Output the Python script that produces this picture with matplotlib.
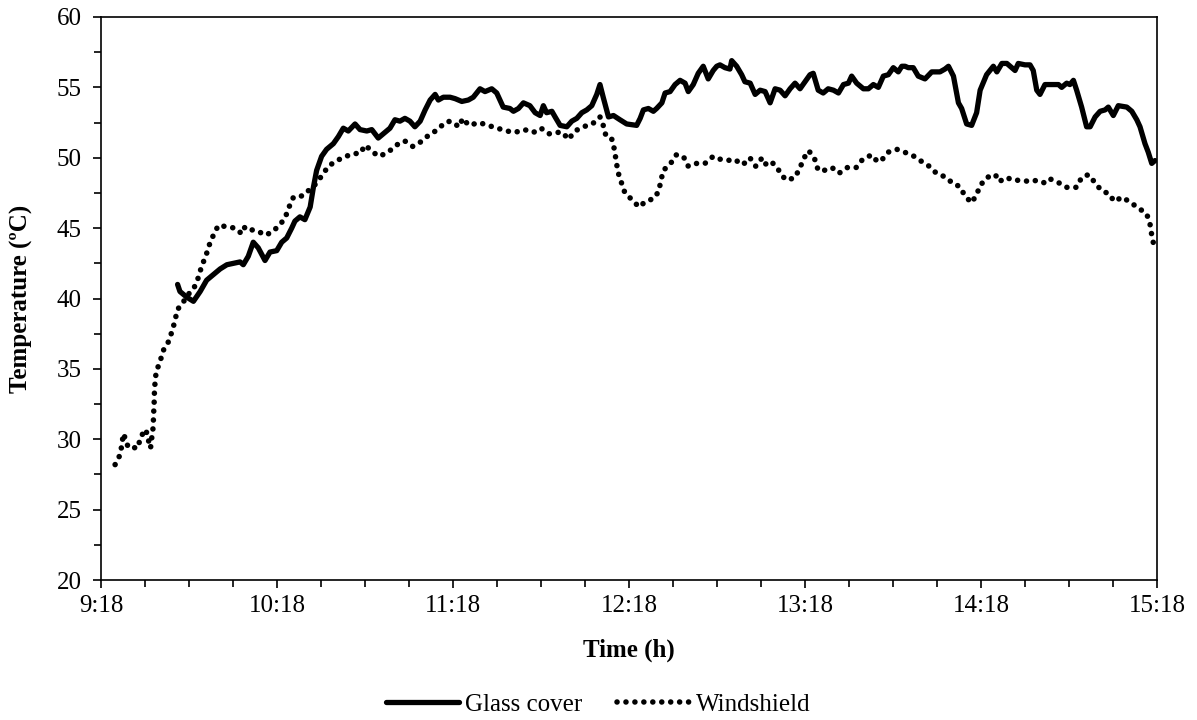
import matplotlib
matplotlib.use("Agg")
import matplotlib.pyplot as plt
from matplotlib.ticker import MultipleLocator

plt.rcParams['font.family'] = ['Liberation Serif', 'DejaVu Serif']

# time in minutes after 9:18, temperature in degC
glass_t = [26.1, 26.9, 29.2, 31.5, 33.8, 36.0, 38.3, 40.6, 42.9, 45.1, 47.4, 48.5, 50.2, 51.9,
           53.6, 55.9, 57.6, 59.9, 61.6, 63.3, 65.0, 66.1, 67.8, 69.5, 71.3, 72.4, 73.5, 75.2,
           76.9, 79.2, 80.9, 82.6, 84.3, 86.6, 88.3, 90.6, 92.3, 94.5, 96.2, 98.5, 100.2, 101.9,
           103.6, 105.3, 107.0, 108.8, 110.5, 112.2, 113.9, 115.0, 116.7, 119.0, 120.7, 123.0,
           125.2, 126.9, 129.2, 130.9, 133.2, 134.9, 137.1, 139.4, 140.6, 142.3, 144.0, 146.2,
           148.0, 149.7, 150.8, 151.9, 153.7, 154.8, 156.5, 158.8, 160.5, 162.2, 163.9, 165.6,
           167.3, 169.0, 170.1, 171.2, 173.0, 174.7, 176.9, 179.2, 182.6, 183.8, 184.9, 186.6,
           188.3, 189.4, 191.2, 192.3, 194.0, 195.7, 197.4, 199.1, 200.2, 201.9, 203.6, 205.3,
           207.0, 208.7, 209.9, 211.0, 212.7, 214.4, 215.0, 216.7, 218.4, 219.5, 221.3, 223.0,
           224.7, 226.4, 228.1, 229.8, 231.5, 233.2, 234.9, 236.6, 238.3, 240.0, 241.7, 242.8,
           244.5, 246.2, 247.9, 249.7, 251.4, 253.1, 254.8, 255.9, 257.6, 259.9, 261.6, 263.3,
           265.0, 266.7, 268.4, 270.1, 271.8, 273.0, 274.1, 275.2, 276.9, 278.6, 280.9, 283.2,
           286.0, 287.7, 288.9, 290.6, 292.3, 293.4, 295.1, 296.8, 298.5, 299.7, 301.9, 304.2,
           305.4, 307.1, 308.8, 310.5, 311.6, 312.7, 315.0, 316.7, 317.8, 319.0, 320.1, 321.8,
           324.1, 326.4, 327.5, 329.2, 330.3, 331.5, 332.6, 334.3, 336.0, 337.2, 338.9, 340.6,
           342.3, 343.4, 345.1, 346.8, 349.7, 351.4, 353.1, 354.2, 355.9, 357.0, 358.2, 359.3]
glass_temp = [41.0, 40.5, 40.1, 39.8, 40.5, 41.3, 41.7, 42.1, 42.4, 42.5, 42.6, 42.4, 43.0, 44.0,
              43.6, 42.7, 43.3, 43.4, 44.0, 44.3, 45.0, 45.5, 45.8, 45.6, 46.5, 47.9, 49.1, 50.1,
              50.6, 51.0, 51.5, 52.1, 51.9, 52.4, 52.0, 51.9, 52.0, 51.4, 51.7, 52.1, 52.7, 52.6,
              52.8, 52.6, 52.2, 52.6, 53.4, 54.1, 54.5, 54.1, 54.3, 54.3, 54.2, 54.0,
              54.1, 54.3, 54.9, 54.7, 54.9, 54.6, 53.6, 53.5, 53.3, 53.5, 53.9, 53.7,
              53.2, 53.0, 53.7, 53.2, 53.3, 52.9, 52.3, 52.2, 52.6, 52.8, 53.2, 53.4,
              53.7, 54.5, 55.2, 54.3, 52.9, 53.0, 52.7, 52.4, 52.3, 52.8, 53.4, 53.5,
              53.3, 53.5, 53.9, 54.6, 54.7, 55.2, 55.5, 55.3, 54.7, 55.2, 56.0, 56.5,
              55.6, 56.2, 56.5, 56.6, 56.4, 56.3, 56.9, 56.5, 55.9, 55.4, 55.3, 54.5,
              54.8, 54.7, 53.9, 54.9, 54.8, 54.4, 54.9, 55.3, 54.9, 55.4, 55.9, 56.0,
              54.8, 54.6, 54.9, 54.8, 54.6, 55.2, 55.3, 55.8, 55.3, 54.9, 54.9, 55.2,
              55.0, 55.8, 55.9, 56.4, 56.1, 56.5, 56.5, 56.4, 56.4, 55.8, 55.6, 56.1,
              56.1, 56.3, 56.5, 55.8, 53.9, 53.5, 52.4, 52.3, 53.2, 54.8, 55.9, 56.5,
              56.1, 56.7, 56.7, 56.4, 56.2, 56.7, 56.6, 56.6, 56.2, 54.8, 54.5, 55.2,
              55.2, 55.2, 55.0, 55.3, 55.2, 55.5, 54.8, 53.6, 52.2, 52.2, 52.9, 53.3,
              53.4, 53.6, 53.0, 53.7, 53.6, 53.3, 52.7, 52.2, 51.0, 50.4, 49.6, 49.8]

wind_t = [4.8, 6.5, 7.1, 7.6, 8.2, 9.3, 10.5, 12.7, 13.3, 15.2, 16.1, 16.5, 16.9, 17.3, 17.8,
          17.9, 18.1, 18.2, 18.4, 18.8, 20.1, 21.2, 22.9, 24.1, 25.2, 26.0, 27.9, 29.4, 31.8,
          33.2, 34.3, 35.7, 36.9, 38.3, 40.0, 42.9, 45.7, 48.0, 49.1, 50.8, 53.4, 55.9, 58.2,
          60.8, 62.7, 64.1, 65.6, 68.8, 73.0, 75.2, 77.5, 80.4, 83.5, 86.2, 88.3, 90.1, 92.6,
          94.9, 97.9, 100.7, 103.5, 106.3, 108.8, 111.7, 114.8, 117.2, 119.1, 122.1, 123.3,
          125.4, 128.9, 131.9, 135.1, 138.3, 141.1, 144.3, 147.4, 150.0, 152.7, 155.1, 157.4,
          159.3, 161.6, 164.4, 167.5, 170.1, 171.2, 172.2, 174.2, 175.0, 175.6, 176.2, 177.3,
          178.6, 181.1, 183.4, 185.7, 188.4, 190.1, 190.9, 191.7, 194.2, 196.1, 198.5, 200.2,
          203.1, 205.9, 208.7, 211.0, 213.6, 215.8, 218.8, 221.2, 223.2, 225.4, 226.8, 228.6,
          230.5, 232.2, 233.9, 236.6, 238.3, 239.7, 241.3, 243.3, 244.5, 246.5, 249.2, 251.6,
          254.4, 257.4, 259.7, 262.7, 264.8, 266.4, 268.4, 271.3, 273.9, 277.2, 280.0, 282.3,
          284.8, 288.2, 290.7, 292.4, 294.3, 296.6, 298.4, 299.6, 302.0, 304.9, 306.1, 308.8,
          310.8, 313.5, 317.0, 319.0, 321.9, 323.5, 326.7, 329.2, 332.6, 334.3, 336.6, 338.6,
          340.9, 343.9, 345.3, 348.2, 351.1, 353.9, 356.5, 357.6, 358.2, 359.0]
wind_temp = [28.2, 28.9, 29.6, 30.4, 30.1, 29.4, 29.4, 29.4, 30.1, 30.7, 30.1, 29.4, 29.4, 30.1, 30.9,
             31.7, 32.5, 33.3, 34.0, 34.8, 35.5, 36.3, 36.9, 37.6, 38.4, 39.2, 39.7, 40.2, 40.8,
             41.5, 42.3, 43.0, 43.8, 44.5, 45.2, 45.1, 45.0, 44.6, 45.1, 44.9, 44.8, 44.5, 44.7,
             45.2, 45.7, 46.5, 47.2, 47.3, 48.1, 48.7, 49.4, 49.8, 50.1, 50.3, 50.3, 50.9, 50.4,
             50.1, 50.4, 50.9, 51.2, 50.8, 51.1, 51.6, 52.0, 52.5, 52.6, 52.2, 52.8,
             52.3, 52.5, 52.3, 52.1, 51.9, 51.8, 52.0, 51.8, 52.1, 51.7, 51.8, 51.8,
             51.3, 51.9, 52.2, 52.4, 52.9, 52.3, 51.5, 51.3, 50.6, 49.8, 49.0, 48.3,
             47.5, 47.0, 46.5, 46.9, 47.1, 47.6, 48.4, 49.1, 49.6, 50.2, 50.1, 49.4,
             49.6, 49.6, 50.1, 49.9, 49.8, 49.9, 49.5, 50.0, 49.4, 50.0, 49.5, 49.7,
             49.3, 48.7, 48.4, 48.6, 49.3, 50.0, 50.5, 49.9, 49.1, 49.1, 49.3, 48.9,
             49.3, 49.3, 49.9, 50.2, 49.7, 49.9, 50.4, 50.6, 50.4, 50.1, 49.7, 49.4,
             48.9, 48.6, 48.1, 48.0, 47.4, 46.8, 47.3, 48.0, 48.6, 48.8, 48.3, 48.6,
             48.4, 48.4, 48.3, 48.4, 48.2, 48.5, 48.2, 47.9, 47.9, 48.6, 48.8, 48.3,
             47.7, 47.4, 46.9, 47.2, 46.8, 46.4, 46.0, 45.3, 44.5, 43.7]

hour_ticks = [0, 60, 120, 180, 240, 300, 360]
hour_labels = ['9:18', '10:18', '11:18', '12:18', '13:18', '14:18', '15:18']

fig = plt.figure(figsize=(11.97, 7.2), dpi=100)
ax = fig.add_axes([0.0844, 0.1944, 0.8822, 0.782])

ax.plot(glass_t, glass_temp, color='black', lw=3.8, solid_joinstyle='round',
        solid_capstyle='round', label='Glass cover')
ax.plot(wind_t, wind_temp, color='black', lw=4.0, linestyle=(0, (0.01, 1.6)),
        dash_capstyle='round', label='Windshield')

ax.set_xlim(0, 360)
ax.set_ylim(20, 60)
ax.set_xticks(hour_ticks)
ax.set_xticklabels(hour_labels)
ax.xaxis.set_minor_locator(MultipleLocator(15))
ax.yaxis.set_major_locator(MultipleLocator(5))
ax.yaxis.set_minor_locator(MultipleLocator(2.5))
ax.tick_params(which='major', direction='out', length=6, width=1.2, labelsize=18, colors='black')
ax.tick_params(which='minor', direction='out', length=5, width=1.2)
ax.tick_params(axis='y', pad=8)
ax.tick_params(axis='x', pad=5)
for s in ax.spines.values():
    s.set_linewidth(1.2)
    s.set_color('black')

ax.set_xlabel('Time (h)', fontsize=18, fontweight='bold', labelpad=15)
ax.set_ylabel('Temperature (ºC)', fontsize=18, fontweight='bold', labelpad=17)

fig.legend(loc='center', bbox_to_anchor=(0.5, 0.021), ncol=2, frameon=False, fontsize=18,
           handlelength=2.9, handletextpad=0.25, columnspacing=1.4)

fig.savefig('out.png', dpi=100)
